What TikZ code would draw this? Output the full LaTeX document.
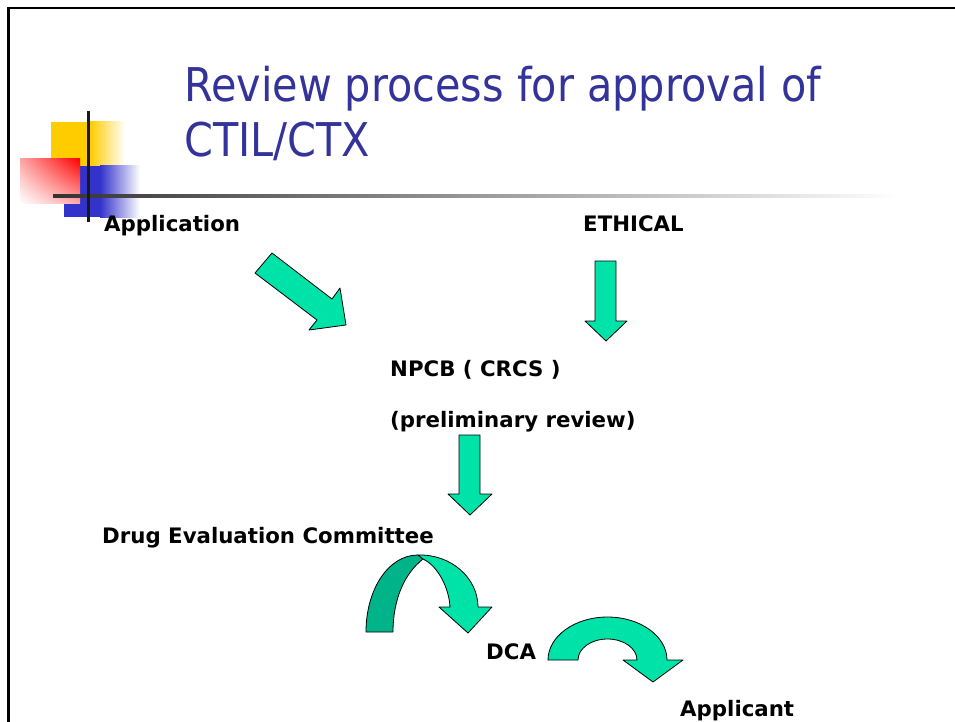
\documentclass[tikz,border=0pt]{standalone}
\usepackage{fontspec}
\setmainfont{DejaVu Sans}
\newfontfamily\titlefont[FakeStretch=0.89]{DejaVu Sans}
\usepackage{xcolor}
\usepackage{tikz}
\usetikzlibrary{positioning,shadings}
\definecolor{titleblue}{RGB}{51,51,153}
\definecolor{arrowgreen}{RGB}{0,227,168}
\definecolor{arrowdark}{RGB}{0,179,136}
\definecolor{decoyellow}{RGB}{255,204,0}
\definecolor{decoblue}{RGB}{51,51,204}
\definecolor{decored}{RGB}{255,0,0}
\tikzset{
  ttl/.style={anchor=base west,inner sep=0pt,text=titleblue,
    font=\titlefont\fontsize{46.5}{55}\selectfont},
  lbl/.style={anchor=base west,inner sep=0pt,
    font=\bfseries\fontsize{21.3}{26}\selectfont},
  blockarrow/.style={fill=arrowgreen,draw=black,line width=0.8pt,line join=round},
  blockback/.style={blockarrow,fill=arrowdark},
}

\begin{document}
\begin{tikzpicture}[x=1pt,y=-1pt]
  \useasboundingbox (0,0) rectangle (955,722);

  % slide frame and corner mark
  \draw[line width=2.7pt] (8.7,722) -- (8.7,8);
  \draw[line width=2.7pt] (7.35,8) -- (955,8);
  \fill[decoyellow] (51,122) rectangle (90,167);
  \shade[left color=decoyellow,right color=white] (90,122) rectangle (125,167);
  \fill[decoblue] (64,166) rectangle (100,217);
  \shade[left color=decoblue,right color=white] (100,166) rectangle (140,217);
  \shade[upper left=decored!35,upper right=decored,lower left=white,lower right=decored!35]
    (20,159) rectangle (80,203);
  \shade[left color=black!80,right color=white] (53,194.3) rectangle (900,197.3);
  \fill[black!90] (87.2,111) rectangle (90.2,222);

  \node[ttl] (title1) at (184,102) {Review process for approval of};
  \node[ttl] (title2) at (184,157) {CTIL/CTX};

  \node[lbl] (app) at (104,231) {Application};
  \node[lbl] (eth) at (583,231) {ETHICAL};
  \node[lbl] (npcb) at (390,376) {NPCB ( CRCS )};
  \node[lbl] (prelim) at (390,427) {(preliminary review)};
  \node[lbl] (dec) at (102,543) {Drug Evaluation Committee};
  \node[lbl] (dca) at (486,659) {DCA};
  \node[lbl] (applicant) at (680,716) {Applicant};

  \draw[blockarrow] (255,273) -- (272,253) -- (332,299) -- (340,288) -- (346,325)
    -- (309,330) -- (317,320) -- cycle;
  \draw[blockarrow] (595,261) -- (616,261) -- (616,321) -- (627,321) -- (606,341)
    -- (585,321) -- (595,321) -- cycle;
  \draw[blockarrow] (459,435) -- (480,435) -- (480,494) -- (492,494) -- (470,515)
    -- (448,494) -- (459,494) -- cycle;

  \draw[blockback] (366,632) .. controls (366,590) and (388,555) .. (418,555)
    -- (423,559) .. controls (404,574) and (393,600) .. (393,632) -- cycle;
  \draw[blockarrow] (418,555) .. controls (451,554) and (478,578) .. (478,607)
    -- (492,607) -- (468,633) -- (439,607) -- (450,607)
    .. controls (449,588) and (438,566) .. (423,559) -- cycle;

  \draw[blockarrow] (548,660) .. controls (548,636.3) and (574.7,617) .. (607.5,617)
    .. controls (640.3,617) and (667,636.3) .. (667,660) -- (683,660) -- (653,682)
    -- (623,660) -- (637,660) .. controls (637,648.4) and (623.8,639) .. (607.5,639)
    .. controls (591.2,639) and (578,648.4) .. (578,660) -- cycle;
\end{tikzpicture}
\end{document}
